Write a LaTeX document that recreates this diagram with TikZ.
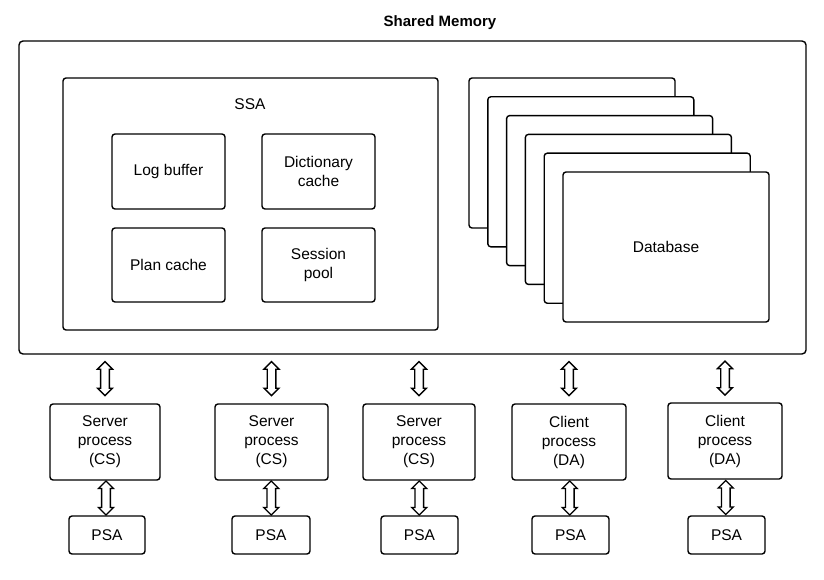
\documentclass[tikz,border=0pt]{standalone}
\usepackage{fontspec}
\setmainfont{Liberation Sans}
\usetikzlibrary{shapes.arrows}
\tikzset{
  box/.style={draw, line width=1.4pt, rounded corners=3pt, fill=white, align=center, font=\fontsize{15.5}{19}\selectfont},
  dblarrow/.style={draw, line width=1.3pt, double arrow, shape border rotate=90, inner sep=3.5pt,
    double arrow head extend=3pt, minimum height=34pt, minimum width=15pt}
}
\begin{document}
\begin{tikzpicture}[x=1pt, y=-1pt]
    \useasboundingbox (0,0) rectangle (824,580);
    % Shared memory
    \node[font=\fontsize{15}{18}\selectfont\bfseries] (title) at (440,23) {Shared Memory};
    \draw[line width=1.4pt, rounded corners=4pt] (19,41) rectangle (806,354);
    \coordinate (shm) at (0,354);

    % SSA
    \draw[line width=1.4pt, rounded corners=3pt] (63,78) rectangle (438,330);
    \node[font=\fontsize{15.5}{19}\selectfont] (ssa) at (250,104) {SSA};
    \node[box, minimum width=113pt, minimum height=75pt] (log) at (168.5,171.5) {Log buffer};
    \node[box, minimum width=113pt, minimum height=75pt] (dict) at (318.5,171.5) {Dictionary\\cache};
    \node[box, minimum width=113pt, minimum height=74pt] (plan) at (168.5,265) {Plan cache};
    \node[box, minimum width=113pt, minimum height=74pt] (sess) at (318.5,265) {Session\\pool};

    % Database stack
    \foreach \i in {0,...,4}
        \draw[line width=1.4pt, rounded corners=3pt, fill=white] (469+18.8*\i,78+18.8*\i) rectangle ++(206,150);
    \node[box, minimum width=206pt, minimum height=150pt] (db) at (666,247) {Database};

    % Processes
    \foreach \n/\x/\y/\w/\txt/\px/\pw in {1/105/442/110/{Server\\process\\(CS)}/107/76,
        2/271.5/442/113/{Server\\process\\(CS)}/271/78,
        3/419/442/112/{Server\\process\\(CS)}/419.5/77,
        4/569/442/114/{Client\\process\\(DA)}/570.5/77,
        5/725/441/114/{Client\\process\\(DA)}/726.5/77} {
        \node[box, minimum width=\w pt, minimum height=76pt] (proc\n) at (\x,\y) {\txt};
        \node[box, minimum width=\pw pt, minimum height=38pt] (psa\n) at (\px,535) {PSA};
        \path (proc\n.north |- shm) -- (proc\n.north) node[midway, dblarrow] {};
        \path (proc\n.south) -- (psa\n.north) node[midway, dblarrow] {};
    }
\end{tikzpicture}
\end{document}
